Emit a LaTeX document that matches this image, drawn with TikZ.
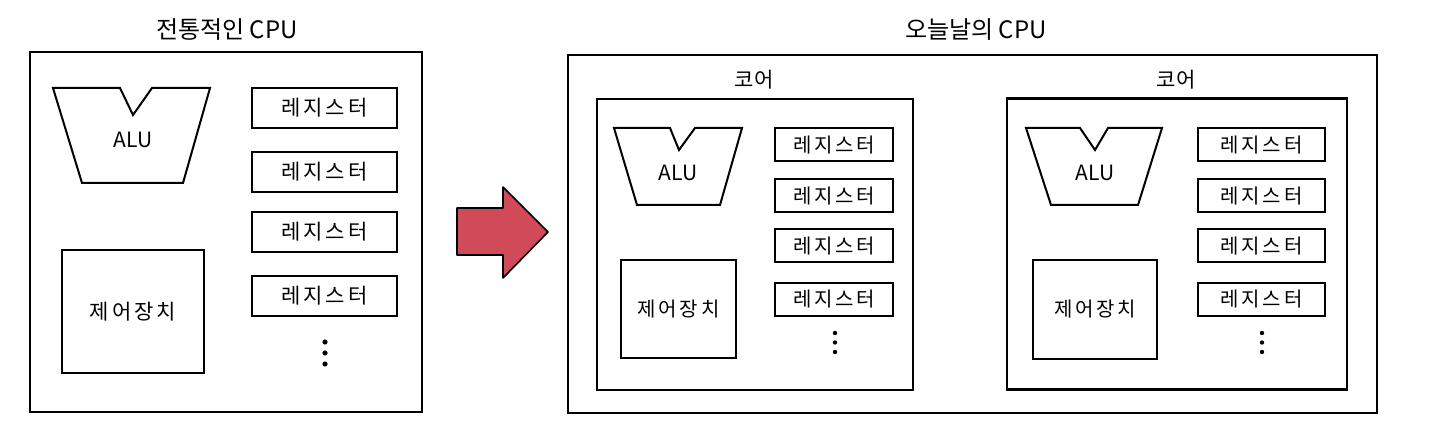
\documentclass[tikz,border=0pt]{standalone}
\usepackage{fontspec}
\setmainfont{Noto Sans CJK KR}
\newfontfamily\wide[LetterSpace=14]{Noto Sans CJK KR}
\usetikzlibrary{positioning}
\usepackage{xcolor}
\definecolor{arrowred}{HTML}{D04A5A}

\begin{document}
\begin{tikzpicture}[x=1pt, y=-1pt, every node/.style={inner sep=0,outer sep=0, font=\fontsize{21}{21}\selectfont}, line width=2.2pt, node distance=20pt,
	cpubox/.style={draw, minimum width=392, minimum height=360},
	corebox/.style={draw, minimum height=291},
	regbox/.style={draw, line width=2pt, minimum width=145, minimum height=40, font=\wide\fontsize{21}{21}\selectfont},
	coreg/.style={draw, line width=2pt, minimum height=33, font=\wide\fontsize{20}{20}\selectfont},
	ctrlbox/.style={draw, line width=2pt, font=\wide\fontsize{21}{21}\selectfont},
	title/.style={font=\fontsize{24}{24}\selectfont}]
		\useasboundingbox (0,0) rectangle (1442,446);
		
		%Traditional CPU
		\node[title] (titleA) at (227,30) {전통적인 CPU};
		\node[cpubox] (cpuA) at (226,232) {};
		\draw[line width=2pt] (53,88) -- (120,88) -- (133,115) -- (152,88) -- (210,88) -- (183,183) -- (82,183) -- cycle;
		\node (aluA) at (133,140) {ALU};
		\node[ctrlbox, minimum width=142, minimum height=123] (ctrlA) at (133,311.5) {제어장치};
		\node[regbox] (regA1) at (324.5,108) {레지스터};
		\node[regbox] (regA2) [below=24pt of regA1] {레지스터};
		\node[regbox] (regA3) [below=20pt of regA2] {레지스터};
		\node[regbox] (regA4) [below=24pt of regA3] {레지스터};
		\foreach \y in {342,353,364} \fill (325,\y) circle (2.6);
		
		%Arrow
		\fill[arrowred, draw=black, line width=1.6pt, line join=round] (457,208) -- (503,208) -- (503,187) -- (548,232) -- (503,278) -- (503,255) -- (457,255) -- cycle;
		
		%Today's CPU
		\node[title] (titleB) at (976,30) {오늘날의 CPU};
		\node[draw, minimum width=809, minimum height=358] (cpuB) at (972.5,234) {};
		
		%Core 1
		\node (coreBlabel) at (754,80) {코어};
		\node[corebox, minimum width=316] (coreB) at (755,244.5) {};
		\draw[line width=2pt] (614,128) -- (670,128) -- (679,150) -- (695,128) -- (742,128) -- (720,205) -- (637,205) -- cycle;
		\node (aluB) at (678,173) {ALU};
		\node[ctrlbox, minimum width=115, minimum height=98, font=\wide\fontsize{20}{20}\selectfont] (ctrlB) at (678.5,309) {제어장치};
		\node[coreg, minimum width=118] (regB1) at (834,145) {레지스터};
		\node[coreg, minimum width=118] (regB2) [below=18pt of regB1] {레지스터};
		\node[coreg, minimum width=118] (regB3) [below=17pt of regB2] {레지스터};
		\node[coreg, minimum width=118] (regB4) [below=20pt of regB3] {레지스터};
		\foreach \y in {333,342.5,352} \fill (835,\y) circle (2.2);
		
		%Core 2
		\node (coreClabel) at (1176,80) {코어};
		\node[corebox, minimum width=340] (coreC) at (1177,244) {};
		\draw[line width=2pt] (1026,128) -- (1080,128) -- (1095,150) -- (1108,128) -- (1162,128) -- (1138,205) -- (1051,205) -- cycle;
		\node (aluC) at (1095,173) {ALU};
		\node[ctrlbox, minimum width=124, minimum height=99, font=\wide\fontsize{20}{20}\selectfont] (ctrlC) at (1095,309.5) {제어장치};
		\node[coreg, minimum width=127] (regC1) at (1261.5,145) {레지스터};
		\node[coreg, minimum width=127] (regC2) [below=18pt of regC1] {레지스터};
		\node[coreg, minimum width=127] (regC3) [below=17pt of regC2] {레지스터};
		\node[coreg, minimum width=127] (regC4) [below=20pt of regC3] {레지스터};
		\foreach \y in {333,342.5,352} \fill (1262,\y) circle (2.2);
	\end{tikzpicture}
\end{document}
